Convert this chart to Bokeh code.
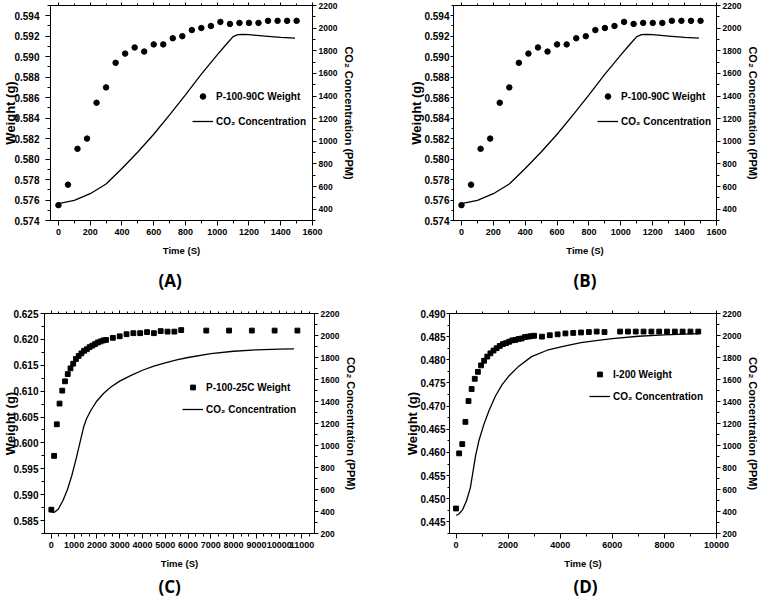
from bokeh.plotting import figure
from bokeh.models import (Range1d, LinearAxis, SingleIntervalTicker, PrintfTickFormatter,
                          CustomJSTickFormatter, Legend, LegendItem, Title)
from bokeh.layouts import column, row
from bokeh.embed import file_html
from bokeh.resources import INLINE

# ---------------- data ----------------
# Panels A and B (P-100-90C)
ab_time = [0, 60, 120, 180, 240, 300, 360, 420, 480, 540, 600, 660, 720, 780, 840,
           900, 960, 1020, 1080, 1140, 1200, 1260, 1320, 1380, 1440, 1500]
ab_weight = [0.5755, 0.5775, 0.5810, 0.5820, 0.5855, 0.5870, 0.5894, 0.5903, 0.5909,
             0.5905, 0.5912, 0.5912, 0.5918, 0.5920, 0.5926, 0.5928, 0.5930, 0.5934,
             0.5932, 0.5933, 0.5933, 0.5933, 0.5935, 0.5935, 0.5935, 0.5935]
ab_co2_time = [0, 100, 200, 300, 400, 500, 600, 700, 800, 900, 1000, 1060, 1100,
               1130, 1160, 1200, 1300, 1400, 1490]
ab_co2 = [450, 478, 537, 622, 760, 905, 1062, 1234, 1410, 1593, 1763, 1862, 1925,
          1942, 1945, 1942, 1930, 1918, 1912]

# Panel C (P-100-25C)
c_time = [0, 120, 240, 360, 480, 600, 720, 840, 960, 1080, 1200, 1320, 1440, 1560,
          1680, 1800, 1920, 2040, 2160, 2280, 2400, 2700, 3000, 3300, 3600, 3900,
          4200, 4500, 4800, 5100, 5400, 5700, 6800, 7800, 8800, 9800, 10800]
c_weight = [0.5871, 0.5975, 0.6036, 0.6076, 0.6101, 0.6119, 0.6133, 0.6144, 0.6153,
            0.6162, 0.6168, 0.6173, 0.6178, 0.6181, 0.6185, 0.6188, 0.6191, 0.6194,
            0.6196, 0.6198, 0.6199, 0.6203, 0.6206, 0.6210, 0.6212, 0.6212, 0.6214,
            0.6212, 0.6216, 0.6215, 0.6215, 0.6218, 0.6217, 0.6217, 0.6217, 0.6217,
            0.6217]
c_co2_time = [0, 60, 150, 300, 500, 700, 900, 1100, 1300, 1420, 1550, 1750, 2000,
              2300, 2600, 3000, 3500, 4000, 4500, 5000, 5500, 6000, 7000, 8000, 9000,
              10000, 10650]
c_co2 = [405, 392, 395, 420, 495, 595, 727, 890, 1065, 1170, 1245, 1325, 1405, 1475,
         1530, 1585, 1638, 1684, 1722, 1752, 1778, 1800, 1835, 1857, 1870, 1877, 1879]

# Panel D (I-200)
d_time = [0, 120, 240, 360, 480, 600, 720, 840, 960, 1080, 1200, 1320, 1440, 1560,
          1680, 1800, 1920, 2040, 2160, 2280, 2400, 2520, 2640, 2760, 2880, 3000,
          3300, 3600, 3900, 4200, 4500, 4800, 5100, 5400, 5700, 6300, 6600, 6900,
          7200, 7500, 7800, 8100, 8400, 8700, 9000, 9300]
d_weight = [0.4479, 0.4598, 0.4618, 0.4666, 0.4711, 0.4737, 0.4759, 0.4774, 0.4788,
            0.4798, 0.4807, 0.4814, 0.4820, 0.4825, 0.4830, 0.4834, 0.4836, 0.4839,
            0.4842, 0.4843, 0.4845, 0.4846, 0.4849, 0.4850, 0.4851, 0.4852, 0.4850,
            0.4853, 0.4855, 0.4857, 0.4858, 0.4859, 0.4860, 0.4861, 0.4860, 0.4861,
            0.4861, 0.4861, 0.4861, 0.4861, 0.4861, 0.4861, 0.4861, 0.4861, 0.4861,
            0.4861]
d_co2_time = [0, 100, 250, 400, 550, 650, 750, 880, 1070, 1260, 1510, 1770, 2020,
              2400, 2900, 3500, 4200, 4800, 5450, 6000, 7000, 8000, 9000, 9300]
d_co2 = [366, 375, 415, 495, 615, 760, 905, 1045, 1192, 1313, 1448, 1553, 1629, 1719,
         1808, 1866, 1906, 1935, 1955, 1972, 1993, 2006, 2014, 2016]

# text
weight_labels = ["P-100-90C Weight", "P-100-90C Weight", "P-100-25C Weight", "I-200 Weight"]
co2_label = "CO\u2082 Concentration"
x_title = "Time (S)"
y_title = "Weight (g)"
y2_title = "CO\u2082 Concentration (PPM)"
panel_tags = ["(A)", "(B)", "(C)", "(D)"]

FONT = "Liberation Sans"


def style_axis(ax, interval, minor, fmt, label, label_size, tick_size,
               tick_standoff, label_standoff, tick_out):
    ax.ticker = SingleIntervalTicker(interval=interval, num_minor_ticks=minor)
    ax.formatter = fmt
    if label is not None:
        ax.axis_label = label
    ax.axis_label_text_font = FONT
    ax.axis_label_text_font_style = "bold"
    ax.axis_label_text_font_size = label_size
    ax.axis_label_text_color = "black"
    ax.major_label_text_font = FONT
    ax.major_label_text_font_style = "bold"
    ax.major_label_text_font_size = tick_size
    ax.major_label_text_color = "black"
    ax.major_tick_in = 0
    ax.major_tick_out = tick_out
    ax.minor_tick_in = 0
    ax.minor_tick_out = 3 if tick_out > 3 else 2
    ax.axis_line_color = "black"
    ax.major_tick_line_color = "black"
    ax.minor_tick_line_color = "black"
    ax.major_label_standoff = tick_standoff
    ax.axis_label_standoff = label_standoff


def make_panel(tag, wlabel, t, w, ct, cv, marker, msize, leg_glyph_h, xr, yr, y2r,
               xint, xminor, yint, borders, left_ax, legend_xy, legend_spacing,
               tag_offset, tag_standoff):
    bl, br, bt, bb = borders
    p = figure(width=381, height=299, output_backend="svg", toolbar_location=None,
               x_range=Range1d(*xr), y_range=Range1d(*yr),
               min_border_left=bl, min_border_right=br,
               min_border_top=bt, min_border_bottom=bb)
    p.title.visible = False
    p.grid.visible = False
    p.outline_line_color = "black"
    p.outline_line_width = 1
    p.outline_line_alpha = 1
    p.background_fill_color = "white"
    p.border_fill_color = "white"
    p.extra_y_ranges = {"co2": Range1d(*y2r)}

    style_axis(p.xaxis[0], xint, xminor, PrintfTickFormatter(format="%d"),
               x_title, "9.5px", "9px", tick_standoff=3, label_standoff=7, tick_out=5)
    lt_out, lt_stand, ll_stand = left_ax
    style_axis(p.yaxis[0], yint, 2, PrintfTickFormatter(format="%.3f"),
               y_title, "13px", "10px", tick_standoff=lt_stand,
               label_standoff=ll_stand, tick_out=lt_out)

    right = LinearAxis(y_range_name="co2")
    style_axis(right, 200, 2, PrintfTickFormatter(format="%d"),
               y2_title, "11px", "8.5px", tick_standoff=2, label_standoff=3, tick_out=4)
    p.add_layout(right, "right")

    top = LinearAxis()
    style_axis(top, xint, xminor, CustomJSTickFormatter(code="return ''"),
               None, "9px", "9px", tick_standoff=0, label_standoff=0, tick_out=3)
    p.add_layout(top, "above")

    r1 = p.scatter(t, w, marker=marker, size=msize, color="black")
    r2 = p.line(ct, cv, y_range_name="co2", line_color="black", line_width=1.3)

    leg = Legend(items=[LegendItem(label=wlabel, renderers=[r1]),
                        LegendItem(label=co2_label, renderers=[r2])],
                 location=legend_xy, orientation="vertical",
                 glyph_width=21, glyph_height=leg_glyph_h, label_height=20,
                 label_standoff=3, spacing=legend_spacing, padding=0, margin=0,
                 border_line_alpha=0, background_fill_alpha=0,
                 label_text_font=FONT, label_text_font_style="bold",
                 label_text_font_size="10px", label_text_color="black")
    p.add_layout(leg)

    ttl = Title(text=tag, align="left", offset=tag_offset, standoff=tag_standoff,
                text_font="Open Sans", text_font_style="bold", text_font_size="17px",
                text_color="black")
    p.add_layout(ttl, "below")
    return p


pa = make_panel(panel_tags[0], weight_labels[0], ab_time, ab_weight, ab_co2_time, ab_co2,
                "circle", 5.5, 14, (-50, 1600), (0.574, 0.595), (300, 2200),
                200, 2, 0.002, (49, 69, 5, 77), (5, 6, -7), (142, 89), 5, 108, 16)
pb = make_panel(panel_tags[1], weight_labels[1], ab_time, ab_weight, ab_co2_time, ab_co2,
                "circle", 5.5, 14, (-50, 1600), (0.574, 0.595), (300, 2200),
                200, 2, 0.002, (72, 46, 5, 77), (3, 1, -3), (144, 89), 5, 120, 16)
pc = make_panel(panel_tags[2], weight_labels[2], c_time, c_weight, c_co2_time, c_co2,
                "square", 4.8, 12, (-300, 11550), (0.5825, 0.625), (200, 2200),
                1000, 3, 0.005, (43, 67, 13, 64), (4, 2, -8), (138, 114), 2, 114, 2)
pd_ = make_panel(panel_tags[3], weight_labels[3], d_time, d_weight, d_co2_time, d_co2,
                 "square", 4.8, 12, (-250, 10000), (0.4425, 0.490), (200, 2200),
                 2000, 2, 0.005, (68, 43, 14, 63), (3, 1, -3), (140, 127), 2, 124, 2)

layout = column(row(pa, pb, spacing=0), row(pc, pd_, spacing=0), spacing=0)

open("out.html", "w").write(file_html(layout, INLINE))
